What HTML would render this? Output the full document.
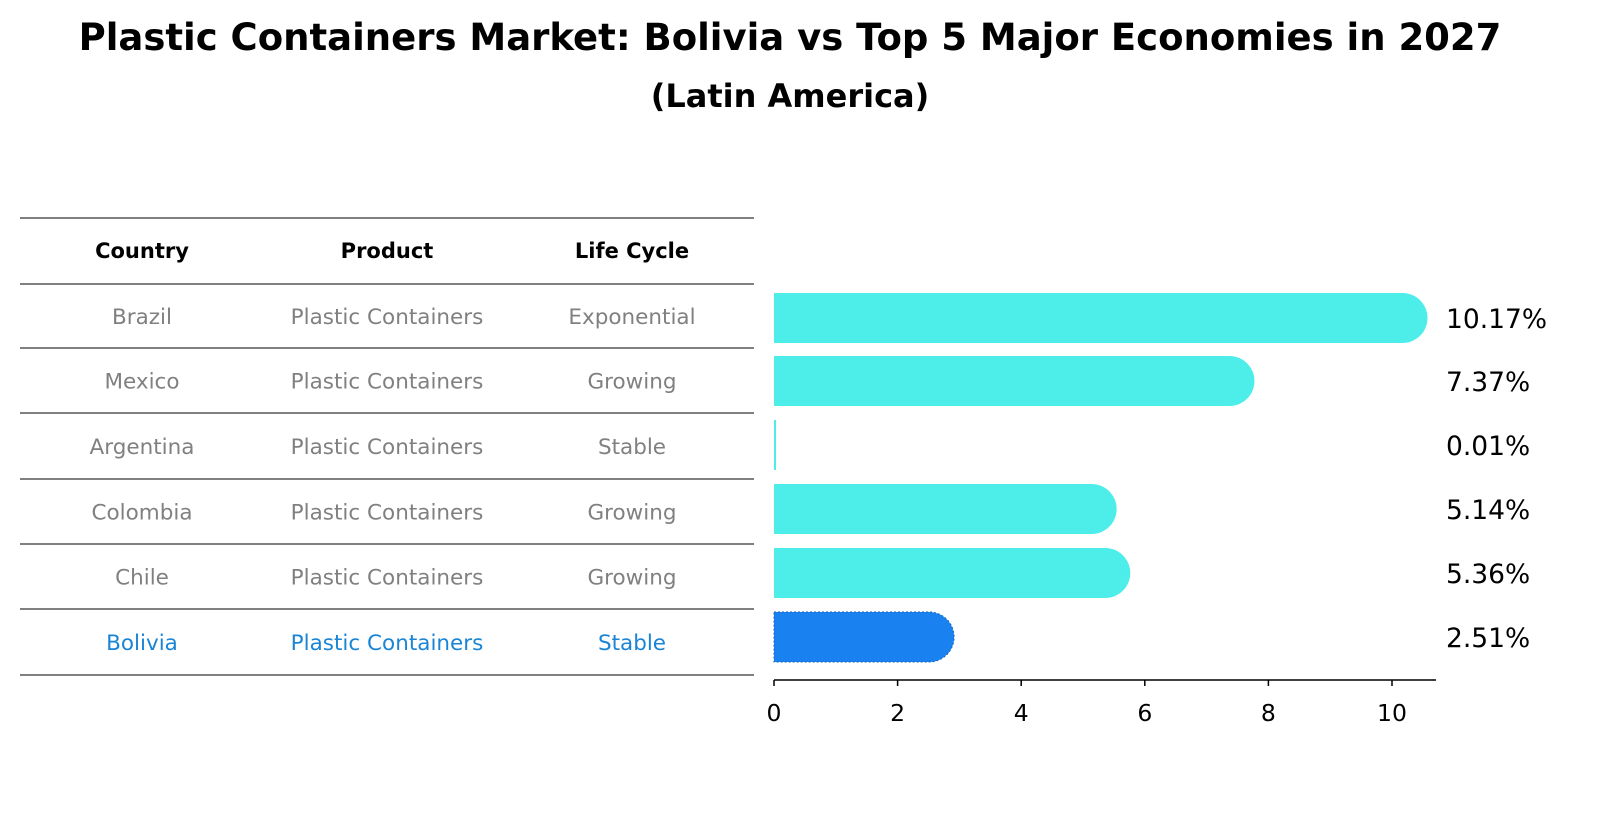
<!DOCTYPE html>
<html><head><meta charset="utf-8"><style>
body{margin:0;background:#fff;font-family:"Liberation Sans","DejaVu Sans",sans-serif;overflow:hidden;}
</style></head><body>
<svg width="1604" height="823" xmlns="http://www.w3.org/2000/svg" font-family="DejaVu Sans, Liberation Sans, sans-serif" style="display:block">
<text x="790" y="50" text-anchor="middle" font-size="37" font-weight="bold">Plastic Containers Market: Bolivia vs Top 5 Major Economies in 2027</text>
<text x="790" y="107" text-anchor="middle" font-size="32" font-weight="bold">(Latin America)</text>
<g id="table"></g>
<g id="bars"></g>
</svg>
<script>
const countries=["Brazil","Mexico","Argentina","Colombia","Chile","Bolivia"];
const products=["Plastic Containers","Plastic Containers","Plastic Containers","Plastic Containers","Plastic Containers","Plastic Containers"];
const lifeCycles=["Exponential","Growing","Stable","Growing","Growing","Stable"];
const values=[10.17,7.37,0.01,5.14,5.36,2.51];
const valueLabels=["10.17%","7.37%","0.01%","5.14%","5.36%","2.51%"];
const ticks=[0,2,4,6,8,10];
const NS="http://www.w3.org/2000/svg";
function mk(t,a,p){const e=document.createElementNS(NS,t);for(const k in a)e.setAttribute(k,a[k]);p.appendChild(e);return e;}
const tbl=document.getElementById('table');
const rowY=[218,284,348,413,479,544,609,675];
rowY.forEach(y=>{const l=mk('line',{x1:20,x2:754,y1:y,y2:y,stroke:'#000','stroke-width':1},tbl);
});
const colX=[142,387,632];
["Country","Product","Life Cycle"].forEach((h,i)=>{const t=mk('text',{x:colX[i],y:258,'text-anchor':'middle','font-size':21,'font-weight':'bold'},tbl);t.textContent=h;
});
countries.forEach((c,i)=>{const y=(rowY[i+1]+rowY[i+2])/2+8;const col=c==="Bolivia"?"#1a85d6":"#808080";
[c,products[i],lifeCycles[i]].forEach((v,j)=>{const t=mk('text',{x:colX[j],y:y,'text-anchor':'middle','font-size':21.5,fill:col},tbl);t.textContent=v;
});});
const g=document.getElementById('bars');
const x0=774,ppu=61.8;const xs=v=>x0+v*ppu;
const centers=[318,381,445,509,573,637];const bh=50,r=25;
values.forEach((v,i)=>{const cy=centers[i];const xe=xs(v);const col=countries[i]==="Bolivia"?"#1a82f0":"#4deeea";
let d;
if(v<0.05){d=`M${x0},${cy-bh/2}h2v${bh}h-2z`;}
else d=`M${x0},${cy-bh/2}H${xe}A${r},${r} 0 0 1 ${xe},${cy+bh/2}H${x0}Z`;
const p=mk('path',{d:d,fill:col},g);
if(countries[i]==="Bolivia"){p.setAttribute('stroke','#1565c0');p.setAttribute('stroke-dasharray','2 2');p.setAttribute('stroke-width','1');}

const t=mk('text',{x:1446,y:cy+10,'font-size':26.5},g);t.textContent=valueLabels[i];
});
const ax=mk('line',{x1:774,x2:1436,y1:680,y2:680,stroke:'#000','stroke-width':1.5},g);

ticks.forEach(tv=>{const x=xs(tv);const tk=mk('line',{x1:x,x2:x,y1:680,y2:686,stroke:'#000','stroke-width':1.5},g);

const t=mk('text',{x:x,y:721,'text-anchor':'middle','font-size':23.5},g);t.textContent=tv;
});
</script>
</body></html>
